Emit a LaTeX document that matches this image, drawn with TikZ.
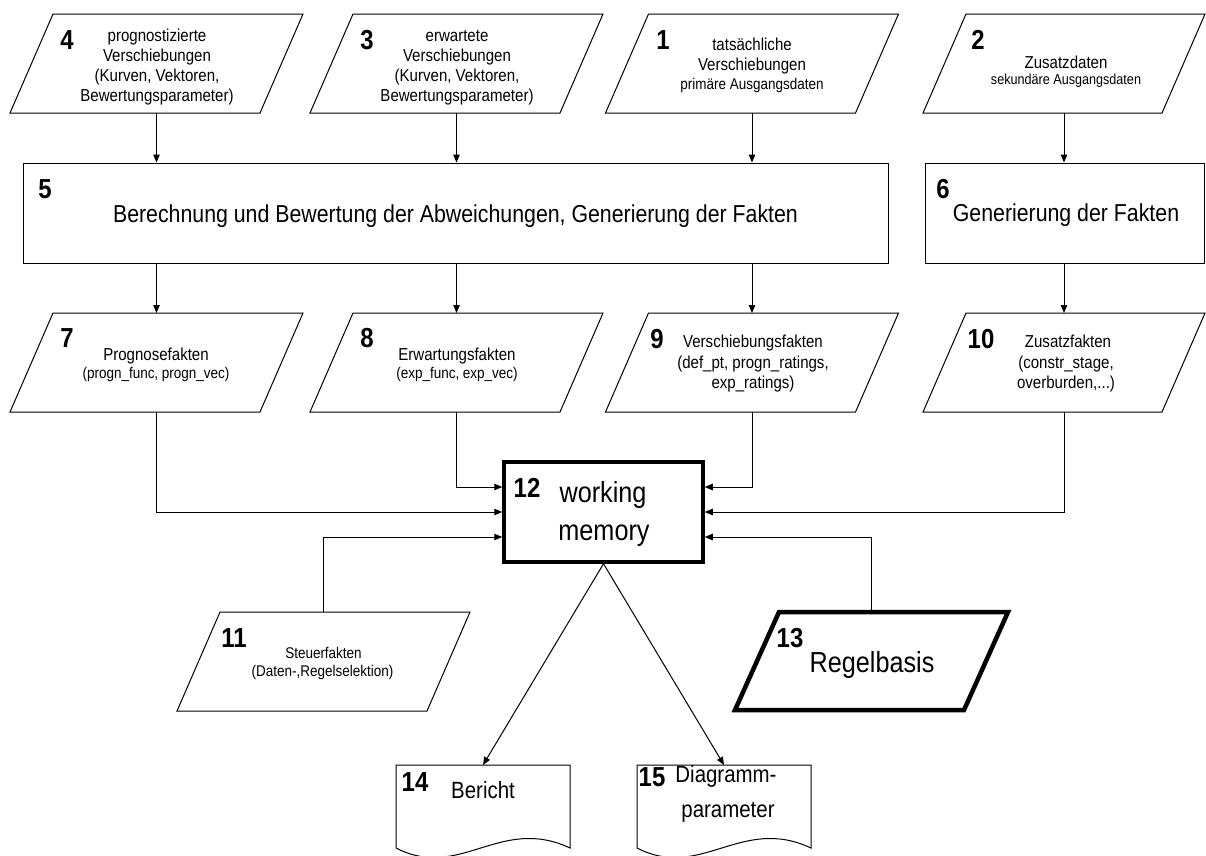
\documentclass[tikz,border=0pt]{standalone}
\usepackage{fontspec}
\setmainfont{Liberation Sans}[FakeStretch=0.87]
\usetikzlibrary{arrows.meta,calc}
\newcommand\szA{\fontsize{17.3}{20}\selectfont}
\newcommand\szB{\fontsize{15.5}{18}\selectfont}
\newcommand\szC{\fontsize{14.5}{16}\selectfont}
\newcommand\szBig{\fontsize{24.5}{28}\selectfont}
\newcommand\szMid{\fontsize{23.5}{26}\selectfont}
\newcommand\szHuge{\fontsize{29}{32}\selectfont}
\newcommand\szNum{\fontsize{27.5}{28}\selectfont\bfseries}
\newcommand\parapath[3]{\draw[#3] (#1.south west) -- ([xshift=-#2pt]#1.south east) -- (#1.north east) -- ([xshift=#2pt]#1.north west) -- cycle;}
\newcommand\docpath[1]{\draw[shapeline] (#1.north west) -- (#1.south west) .. controls ($(#1.south west)+(64,33)$) and ($(#1.south west)+(104,-33)$) .. (#1.south east) -- (#1.north east) -- cycle;}
\tikzset{
  frame/.style={draw=none, inner sep=0pt, outer sep=0pt},
  shapeline/.style={draw=black, line width=1pt, line join=miter},
  conn/.style={line width=1pt, -{Triangle[length=8pt,width=6.5pt]}},
  plain/.style={line width=1pt},
  txt/.style={inner sep=0pt, anchor=base},
  num/.style={inner sep=0pt, anchor=base, font=\szNum},
}
\begin{document}
\begin{tikzpicture}[x=1pt,y=-1pt]
\useasboundingbox (0,0) rectangle (1206,855);

% top row
\node[frame, minimum width=293pt, minimum height=99pt] (b4) at (156.5,63.5) {};
\node[frame, minimum width=293pt, minimum height=99pt] (b3) at (456.5,63.5) {};
\node[frame, minimum width=293pt, minimum height=99pt] (b1) at (752,63.5) {};
\node[frame, minimum width=282pt, minimum height=99pt] (b2) at (1064,63.5) {};
\parapath{b4}{43}{shapeline}
\parapath{b3}{43}{shapeline}
\parapath{b1}{43}{shapeline}
\parapath{b2}{43}{shapeline}

% middle boxes
\node[shapeline, inner sep=0pt, outer sep=0.5pt, minimum width=865pt, minimum height=100pt] (b5) at (455.5,213) {};
\node[shapeline, inner sep=0pt, outer sep=0.5pt, minimum width=279pt, minimum height=100pt] (b6) at (1064.5,213) {};

% third row
\node[frame, minimum width=293pt, minimum height=99pt] (b7) at (156.5,362.5) {};
\node[frame, minimum width=293pt, minimum height=99pt] (b8) at (456.5,362.5) {};
\node[frame, minimum width=293pt, minimum height=99pt] (b9) at (752,362.5) {};
\node[frame, minimum width=282pt, minimum height=99pt] (b10) at (1064,362.5) {};
\parapath{b7}{43}{shapeline}
\parapath{b8}{43}{shapeline}
\parapath{b9}{43}{shapeline}
\parapath{b10}{43}{shapeline}

% working memory
\node[draw=black, line width=3.5pt, inner sep=0pt, minimum width=199pt, minimum height=100pt] (b12) at (603.5,512) {};

% lower boxes
\node[frame, minimum width=293pt, minimum height=99pt] (b11) at (323.5,661.5) {};
\parapath{b11}{43}{shapeline}
\node[frame, minimum width=273pt, minimum height=98pt] (b13) at (871.5,661) {};
\parapath{b13}{44}{shapeline, line width=4.5pt}
\node[frame, minimum width=174pt, minimum height=83pt] (b14) at (483,806.5) {};
\node[frame, minimum width=174pt, minimum height=83pt] (b15) at (724,806.5) {};
\docpath{b14}
\docpath{b15}

% connectors
\draw[conn] (b4.south) -- (b4.south |- b5.north);
\draw[conn] (b3.south) -- (b3.south |- b5.north);
\draw[conn] (b1.south) -- (b1.south |- b5.north);
\draw[conn] (b2.south) -- (b2.south |- b6.north);
\draw[conn] (b7.north |- b5.south) -- (b7.north);
\draw[conn] (b8.north |- b5.south) -- (b8.north);
\draw[conn] (b9.north |- b5.south) -- (b9.north);
\draw[conn] (b10.north |- b6.south) -- (b10.north);
\draw[conn] (b8.south) |- ([yshift=25pt]b12.west);
\draw[conn] (b7.south) |- (b12.west);
\draw[conn] (b11.north) |- ([yshift=-25pt]b12.west);
\draw[conn] (b9.south) |- ([yshift=25pt]b12.east);
\draw[conn] (b10.south) |- (b12.east);
\draw[conn] (b13.north) |- ([yshift=-25pt]b12.east);
\draw[conn] (b12.south) -- (b14.north);
\draw[conn] (b12.south) -- (b15.north);

% texts top row
\node[num] (n4) at (67,49) {4};
\node[txt, font=\szA] (t4a) at (157,41) {prognostizierte};
\node[txt, font=\szA] (t4b) at (157,61) {Verschiebungen};
\node[txt, font=\szA] (t4c) at (157,81) {(Kurven, Vektoren,};
\node[txt, font=\szA] (t4d) at (157,101) {Bewertungsparameter)};
\node[num] (n3) at (367,49) {3};
\node[txt, font=\szA] (t3a) at (457,41) {erwartete};
\node[txt, font=\szA] (t3b) at (457,61) {Verschiebungen};
\node[txt, font=\szA] (t3c) at (457,81) {(Kurven, Vektoren,};
\node[txt, font=\szA] (t3d) at (457,101) {Bewertungsparameter)};
\node[num] (n1) at (663,49) {1};
\node[txt, font=\szA] (t1a) at (752,50) {tatsächliche};
\node[txt, font=\szA] (t1b) at (752,70) {Verschiebungen};
\node[txt, font=\szB] (t1c) at (752,89) {primäre Ausgangsdaten};
\node[num] (n2) at (978,49) {2};
\node[txt, font=\szA] (t2a) at (1066,68) {Zusatzdaten};
\node[txt, font=\szC] (t2b) at (1066,84) {sekundäre Ausgangsdaten};

% texts middle
\node[num] (n5) at (45,198) {5};
\node[txt, font=\szBig] (t5) at (455.5,222) {Berechnung und Bewertung der Abweichungen, Generierung der Fakten};
\node[num] (n6) at (943,198) {6};
\node[txt, font=\szBig] (t6) at (1066,221) {Generierung der Fakten};

% texts third row
\node[num] (n7) at (67,347) {7};
\node[txt, font=\szA] (t7a) at (156,360) {Prognosefakten};
\node[txt, font=\szB] (t7b) at (156,378) {(progn\_func, progn\_vec)};
\node[num] (n8) at (367,347) {8};
\node[txt, font=\szA] (t8a) at (457,360) {Erwartungsfakten};
\node[txt, font=\szB] (t8b) at (457,378) {(exp\_func, exp\_vec)};
\node[num] (n9) at (657,348) {9};
\node[txt, font=\szA] (t9a) at (753,347) {Verschiebungsfakten};
\node[txt, font=\szA] (t9b) at (753,368) {(def\_pt, progn\_ratings,};
\node[txt, font=\szA] (t9c) at (753,388) {exp\_ratings)};
\node[num] (n10) at (981,348) {10};
\node[txt, font=\szA] (t10a) at (1068,347) {Zusatzfakten};
\node[txt, font=\szA] (t10b) at (1066,368) {(constr\_stage,};
\node[txt, font=\szA] (t10c) at (1066,388) {overburden,...)};

% working memory texts
\node[num] (n12) at (527,497) {12};
\node[txt, font=\szHuge] (t12a) at (603,502) {working};
\node[txt, font=\szHuge] (t12b) at (604,540) {memory};

% lower texts
\node[num] (n11) at (234,647) {11};
\node[txt, font=\szB] (t11a) at (323.5,658) {Steuerfakten};
\node[txt, font=\szB] (t11b) at (322.5,676) {(Daten-,Regelselektion)};
\node[num] (n13) at (790,647) {13};
\node[txt, font=\szHuge] (t13) at (872,672) {Regelbasis};
\node[num] (n14) at (415,791) {14};
\node[txt, font=\szMid] (t14) at (483,798) {Bericht};
\node[num] (n15) at (652,786) {15};
\node[txt, font=\szMid] (t15a) at (726,782) {Diagramm-};
\node[txt, font=\szMid] (t15b) at (728,817) {parameter};
\end{tikzpicture}
\end{document}
